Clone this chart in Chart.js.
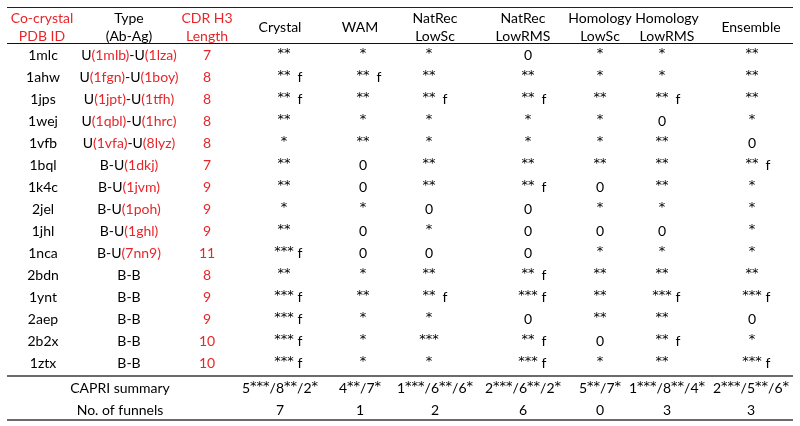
<!DOCTYPE html>
<html>
<head>
<meta charset="utf-8">
<script src="https://cdn.jsdelivr.net/npm/chart.js@4.4.1/dist/chart.umd.min.js"></script>
<style>
  html,body{margin:0;padding:0;background:#fff}
  canvas{display:block}
</style>
</head>
<body>
<canvas id="capriTable" width="800" height="426"></canvas>
<script>
// ---- data ----
const PDB_IDS = ['1mlc','1ahw','1jps','1wej','1vfb','1bql','1k4c','2jel','1jhl','1nca','2bdn','1ynt','2aep','2b2x','1ztx'];
const TYPES   = ['U(1mlb)-U(1lza)','U(1fgn)-U(1boy)','U(1jpt)-U(1tfh)','U(1qbl)-U(1hrc)','U(1vfa)-U(8lyz)',
                 'B-U(1dkj)','B-U(1jvm)','B-U(1poh)','B-U(1ghl)','B-U(7nn9)','B-B','B-B','B-B','B-B','B-B'];
const CDR_H3  = [7,8,8,8,8,7,9,9,9,11,8,9,9,10,10];

const METHODS = ['Crystal','WAM','NatRec\nLowSc','NatRec\nLowRMS','Homology\nLowSc','Homology\nLowRMS','Ensemble'];
const CRYSTAL      = ['**','** f','** f','**','*','**','**','*','**','*** f','**','*** f','*** f','*** f','*** f'];
const WAM          = ['*','** f','**','*','**','0','0','*','0','0','*','**','*','*','*'];
const NATREC_LOWSC = ['*','**','** f','*','*','**','**','0','*','0','**','** f','*','***','*'];
const NATREC_LOWRMS= ['0','**','** f','*','*','**','** f','0','0','0','** f','*** f','0','** f','*** f'];
const HOM_LOWSC    = ['*','*','**','*','*','**','0','*','0','*','**','**','**','0','*'];
const HOM_LOWRMS   = ['*','*','** f','0','**','**','**','*','0','*','**','*** f','**','** f','**'];
const ENSEMBLE     = ['**','**','**','*','0','** f','*','*','*','*','**','*** f','0','*','*** f'];

const CAPRI_SUMMARY = ['5***/8**/2*','4**/7*','1***/6**/6*','2***/6**/2*','5**/7*','1***/8**/4*','2***/5**/6*'];
const FUNNELS       = [7,1,2,6,0,3,3];

// ---- layout ----
const RED = '#e8262a';
const FONT = '14px Lato, "Liberation Sans", sans-serif';
const STAR_FONT = '13px "DejaVu Sans", sans-serif';
const CELL_X = [43,129,207,284,363,429,528,600,662,752];   // body cell centres (x scale units)
const HEAD_X = [42,129,207,280,360,435,523,600,667,751];   // header / summary centres
const LINE_X = [7,793];
const ROW = {top:-2.18, head1:-1.64, headMid:-1.27, head2:-0.86, headLine:-0.545, sep:14.59, capri:15.14, funnels:16.14, bottom:16.59};

const columns = [PDB_IDS, TYPES, CDR_H3, CRYSTAL, WAM, NATREC_LOWSC, NATREC_LOWRMS, HOM_LOWSC, HOM_LOWRMS, ENSEMBLE];
const datasets = columns.map((col, c) => ({
  label: 'col' + c,
  cells: col.map(String),
  data: col.map((v, r) => ({x: CELL_X[c], y: r})),
  pointRadius: 0, pointHoverRadius: 0, showLine: false
}));

// draw a string centred on cx; runs of '*' use the star font, '(..)' runs go red
function drawRuns(ctx, text, cx, y, colourParens) {
  const parts = text.split(/(\*+|\([^)]*\))/).filter(s => s.length);
  const fontOf = p => p[0] === '*' ? STAR_FONT : FONT;
  const widths = parts.map(p => { ctx.font = fontOf(p); return ctx.measureText(p).width; });
  let x = cx - widths.reduce((a, b) => a + b, 0) / 2;
  ctx.textAlign = 'left';
  parts.forEach((p, i) => {
    ctx.font = fontOf(p);
    ctx.fillStyle = colourParens && p[0] === '(' ? RED : '#000';
    ctx.fillText(p, x, p[0] === '*' ? y - 1 : y);
    x += widths[i];
  });
  ctx.textAlign = 'center';
  ctx.font = FONT;
}

function drawScore(ctx, text, cx, y) {
  const hasF = /f$/.test(text);
  drawRuns(ctx, text.replace(/\s*f$/, ''), cx, y, false);
  if (hasF) { ctx.fillStyle = '#000'; ctx.fillText('f', cx + 16, y); }
}

const tablePlugin = {
  id: 'tablePlugin',
  afterDatasetsDraw(chart) {
    const ctx = chart.ctx, xs = chart.scales.x, ys = chart.scales.y;
    ctx.save();
    ctx.font = FONT;
    ctx.textAlign = 'center';
    ctx.textBaseline = 'middle';

    // rules
    const hline = (v, w, col) => {
      const py = Math.round(ys.getPixelForValue(v)) + (w % 2 ? 0.5 : 0);
      ctx.strokeStyle = col; ctx.lineWidth = w;
      ctx.beginPath();
      ctx.moveTo(xs.getPixelForValue(LINE_X[0]), py);
      ctx.lineTo(xs.getPixelForValue(LINE_X[1]), py);
      ctx.stroke();
    };
    hline(ROW.top, 1, '#222');
    hline(ROW.headLine, 1, '#111');
    hline(ROW.sep, 2, '#6b6b6b');
    hline(ROW.bottom, 2, '#6b6b6b');

    // header
    const heads = [['Co-crystal','PDB ID',RED],['Type','(Ab-Ag)','#000'],['CDR H3','Length',RED]]
      .concat(METHODS.map(m => { const p = m.split('\n'); return [p[0], p[1] || null, '#000']; }));
    heads.forEach((h, c) => {
      const x = xs.getPixelForValue(HEAD_X[c]);
      ctx.fillStyle = h[2];
      if (h[1]) {
        ctx.fillText(h[0], x, ys.getPixelForValue(ROW.head1));
        ctx.fillText(h[1], x, ys.getPixelForValue(ROW.head2));
      } else {
        ctx.fillText(h[0], x, ys.getPixelForValue(ROW.headMid));
      }
    });

    // body cells from the dataset elements
    chart.data.datasets.forEach((ds, c) => {
      chart.getDatasetMeta(c).data.forEach((pt, r) => {
        const t = ds.cells[r];
        if (c === 0) { ctx.fillStyle = '#000'; ctx.fillText(t, pt.x, pt.y); }
        else if (c === 1) drawRuns(ctx, t, pt.x, pt.y, true);
        else if (c === 2) { ctx.fillStyle = RED; ctx.fillText(t, pt.x, pt.y); }
        else drawScore(ctx, t, pt.x, pt.y);
      });
    });

    // summary rows
    ctx.fillStyle = '#000';
    const labX = xs.getPixelForValue(120);
    ctx.fillText('CAPRI summary', labX, ys.getPixelForValue(ROW.capri));
    ctx.fillText('No. of funnels', labX, ys.getPixelForValue(ROW.funnels));
    CAPRI_SUMMARY.forEach((s, i) => drawRuns(ctx, s, xs.getPixelForValue(HEAD_X[i + 3]), ys.getPixelForValue(ROW.capri), false));
    ctx.fillStyle = '#000';
    FUNNELS.forEach((s, i) => ctx.fillText(String(s), xs.getPixelForValue(HEAD_X[i + 3]), ys.getPixelForValue(ROW.funnels)));
    ctx.restore();
  }
};

new Chart(document.getElementById('capriTable'), {
  type: 'scatter',
  data: {datasets},
  options: {
    responsive: false, animation: false, devicePixelRatio: 1,
    layout: {padding: 0},
    plugins: {legend: {display: false}, tooltip: {enabled: false}},
    events: [],
    scales: {
      x: {type: 'linear', min: 0, max: 800, display: false},
      y: {type: 'linear', min: -2.5, max: 16.864, reverse: true, display: false}
    }
  },
  plugins: [tablePlugin]
});
</script>
</body>
</html>
